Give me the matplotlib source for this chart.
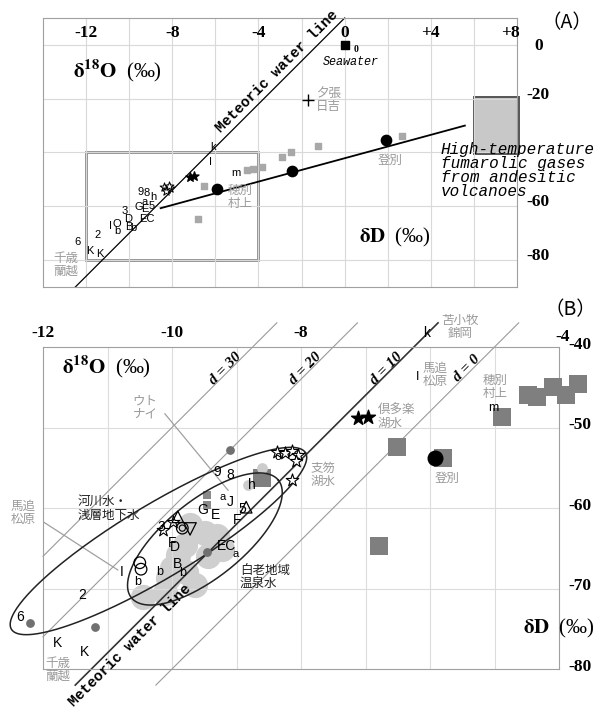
import numpy as np
import matplotlib.pyplot as plt
from matplotlib.patches import Rectangle

plt.rcParams['font.family'] = ['Liberation Sans', 'Noto Sans CJK JP']
plt.rcParams['mathtext.fontset'] = 'stix'

JP = ['Noto Sans CJK JP', 'DejaVu Sans']
GRAYTXT = '#9a9a9a'

# ---------------- panel A data (d18O, dD) ----------------
a_letters = ['9', '8', 'h', 'a', '3', 'G', 'E', '5', 'D', 'O', 'I', 'b', 'B', 'b', 'EC',
             '6', '2', 'K', 'K', 'm', 'I', 'k']
a_letter_x = [-9.46, -9.2, -8.86, -9.28, -10.2, -9.56, -9.28, -8.95, -10.06, -10.57, -10.85,
              -10.55, -10.02, -9.8, -9.2, -12.38, -11.45, -11.85, -11.38, -5.06, -6.22, -6.13]
a_letter_y = [-54.8, -55.2, -56.7, -58.5, -61.9, -60.4, -61.1, -60.0, -64.8, -66.7, -67.4,
              -69.3, -67.8, -68.1, -64.8, -73.3, -70.7, -76.7, -77.8, -47.8, -43.7, -38.1]
a_star_x = [-8.4, -8.25, -8.1, -8.3, -8.15]
a_star_y = [-53.0, -53.5, -53.2, -54.2, -52.6]
a_bstar_x = [-7.2, -7.0]
a_bstar_y = [-49.0, -48.8]
a_sq_x = [-1.22, 2.67, -6.55, -6.82, -4.55, -4.25, -3.85, -2.9, -2.5]
a_sq_y = [-37.4, -33.7, -52.6, -64.8, -46.6, -46.0, -45.5, -41.5, -39.7]
a_dot_x = [-5.94, -2.43, 1.93]
a_dot_y = [-53.7, -47.0, -35.2]
mix_x = [-8.54, 5.58]
mix_y = [-60.7, -30.0]

# ---------------- panel B data ----------------
b_letters = ['9', '8', 'h', 'a', 'J', 'G', 'E', '5', 'F', '3', 'F', 'D', 'EC', 'a', 'B',
             'b', 'b', 'b', 'I', '2', '6', 'K', 'K', 'm', 'I', 'k', 'o']
b_letter_x = [-9.3, -9.1, -8.76, -9.22, -9.1, -9.52, -9.33, -8.91, -8.99, -10.17, -10.0,
              -9.95, -9.15, -9.02, -9.92, -10.19, -9.83, -10.53, -10.78, -11.4, -12.36,
              -11.77, -11.35, -5.02, -6.19, -6.05, -8.36]
b_letter_y = [-55.5, -55.9, -57.1, -58.6, -59.3, -60.2, -60.9, -60.1, -61.5, -62.4, -64.3,
              -64.8, -64.7, -65.7, -67.0, -68.0, -68.1, -69.2, -68.0, -70.8, -73.5, -76.8,
              -77.9, -47.6, -43.7, -38.3, -53.7]
b_letter_size = [10, 10, 10, 8, 10, 10, 10, 10, 10, 10, 10, 10, 10, 8, 10,
                 9, 9, 9, 10, 10, 10, 10, 10, 9, 9, 10, 9]

b_blob_x = [-9.72, -9.49, -9.36, -9.8, -9.91, -9.44, -10.0, -10.06, -9.78, -9.64, -10.45,
            -10.11, -9.22, -9.3]
b_blob_y = [-62.1, -63.1, -64.0, -64.6, -65.8, -66.0, -67.5, -68.7, -68.0, -69.6, -71.1,
            -70.6, -65.1, -63.5]
b_sq_x = [-6.51, -5.8, -6.79, -8.6, -4.88, -4.48, -4.34, -4.09, -3.89, -3.71]
b_sq_y = [-52.4, -53.8, -64.7, -56.3, -48.7, -46.0, -46.2, -45.0, -46.0, -44.6]
b_smsq_x = [-9.45, -9.45]
b_smsq_y = [-58.4, -59.6]
b_dot_x = [-5.92]
b_dot_y = [-53.8]
b_gdot_x = [-9.1, -12.2, -11.19, -9.46]
b_gdot_y = [-52.8, -74.3, -74.8, -65.5]
b_ldot_x = [-8.6, -8.82]
b_ldot_y = [-55.0, -57.1]
b_ostar_x = [-8.37, -8.25, -8.14, -8.05, -8.08, -8.14, -10.14, -9.98]
b_ostar_y = [-53.0, -53.2, -52.9, -53.4, -54.2, -56.5, -62.7, -61.7]
b_bstar_x = [-7.12, -6.96]
b_bstar_y = [-48.8, -48.7]
d_values = [30, 20, 10, 0]

fig = plt.figure(figsize=(6.14, 7.16), dpi=100)

# ================= panel A =================
axA = fig.add_axes([43 / 614, 1 - 287 / 716, 474 / 614, 269 / 716])
axA.set_xlim(-14, 8)
axA.set_ylim(-90, 10)
axA.set_xticks(np.arange(-12, 8, 2))
axA.set_yticks(np.arange(-80, 1, 20))
axA.grid(True, color='#d9d9d9', lw=0.8)
axA.tick_params(length=0, labelbottom=False, labelleft=False)
for s in axA.spines.values():
    s.set_color('#a0a0a0')

xx = np.array([-12.5, 0.0])
axA.plot(xx, 8 * xx + 10, color='black', lw=0.9, clip_on=False)
axA.plot(mix_x, mix_y, color='black', lw=1.3)
axA.add_patch(Rectangle((-12, -80), 8, 40, fill=False, ec='#8a8a8a', lw=2))
axA.add_patch(Rectangle((6, -40.5), 2.1, 21, fc='#c8c8c8', ec='#555555', lw=1.4, clip_on=False))

axA.scatter(a_sq_x, a_sq_y, marker='s', s=14, color='#a8a8a8', zorder=3)
axA.scatter(a_dot_x, a_dot_y, marker='o', s=55, color='black', zorder=4)
axA.scatter(a_star_x, a_star_y, marker='*', s=45, fc='white', ec='black', lw=0.7, zorder=4)
axA.scatter(a_bstar_x, a_bstar_y, marker='*', s=45, color='black', zorder=4)
axA.scatter([0], [0], marker='s', s=40, color='black', zorder=4)
axA.plot([-1.7], [-20.4], marker='+', ms=9, color='black', mew=1)
for t, x, y in zip(a_letters, a_letter_x, a_letter_y):
    axA.text(x, y, t, fontsize=8, ha='center', va='center', zorder=5)

for v in [-12, -8, -4, 0]:
    axA.text(v, 4.6, str(v), family='Liberation Serif', weight='bold', fontsize=12.5,
             ha='center', va='center')
axA.text(4, 4.6, '+4', family='Liberation Serif', weight='bold', fontsize=12.5,
         ha='center', va='center')
axA.text(7.7, 4.6, '+8', family='Liberation Serif', weight='bold', fontsize=12.5,
         ha='center', va='center')
axA.text(8.8, -0.5, '0', family='Liberation Serif', weight='bold', fontsize=12.5,
         ha='left', va='center', clip_on=False)
for v in [-20, -60, -80]:
    axA.text(8.45, v + 1.5, str(v), family='Liberation Serif', weight='bold', fontsize=12.5,
             ha='left', va='center')

axA.text(-12.6, -9.5, r'$\mathbf{\delta^{18}O}$  (‰)', family='Liberation Serif',
         fontsize=15, ha='left', va='center')
axA.text(0.65, -71.5, r'$\mathbf{\delta D}$  (‰)', family='Liberation Serif',
         fontsize=15, ha='left', va='center')
axA.text(-3.14, -10.0, 'Meteoric water line', family='Liberation Mono', weight='bold',
         fontsize=10.5, rotation=45, ha='center', va='center')
axA.text(0.55, -1.8, '0', family='Liberation Serif', weight='bold', fontsize=7,
         ha='center', va='center')
axA.text(0.3, -6.3, 'Seawater', family='Liberation Mono', style='italic', fontsize=8.5,
         ha='center', va='center')
axA.text(4.45, -36.0, 'High-temperature\nfumarolic gases\nfrom andesitic\nvolcanoes',
         family='Liberation Mono', style='italic', fontsize=11.5, linespacing=0.92,
         ha='left', va='top', clip_on=False, zorder=6)
axA.text(-1.35, -20.4, '夕張\n日吉', family=JP, color=GRAYTXT, fontsize=9,
         ha='left', va='center', linespacing=1.0)
axA.text(2.1, -42.8, '登別', family=JP, color=GRAYTXT, fontsize=9, ha='center', va='center')
axA.text(-4.86, -56.5, '穂別\n村上', family=JP, color=GRAYTXT, fontsize=9,
         ha='center', va='center', linespacing=1.0)
axA.text(-12.95, -81.8, '千歳\n蘭越', family=JP, color=GRAYTXT, fontsize=9,
         ha='center', va='center', linespacing=1.0)
fig.text(567 / 614, 1 - 23 / 716, '（A）', family=JP, fontsize=14, ha='center', va='center')

# ================= panel B =================
axB = fig.add_axes([43 / 614, 1 - 669 / 716, 516 / 614, 322 / 716])
axB.set_xlim(-12, -4)
axB.set_ylim(-80, -40)
axB.set_xticks(np.arange(-11, -4, 1))
axB.set_yticks(np.arange(-70, -40, 10))
axB.grid(True, color='#dcdcdc', lw=0.8)
axB.tick_params(length=0, labelbottom=False, labelleft=False)
for s in axB.spines.values():
    s.set_color('#a0a0a0')

for d in d_values:
    x0 = max(-12.0, (-82.0 - d) / 8)
    x1 = (-37.0 - d) / 8
    xs = np.array([x0, x1])
    if d == 10:
        axB.plot(xs, 8 * xs + d, color='#333333', lw=1.2, clip_on=False, zorder=2)
    else:
        axB.plot(xs, 8 * xs + d, color='#9a9a9a', lw=0.8, clip_on=False, zorder=2)
    xt = (-43.0 - d) / 8 - 0.05
    axB.text(xt, -42.7, f'd = {d}', family='Liberation Serif', weight='bold',
             style='italic', fontsize=11, rotation=45, ha='center', va='center',
             clip_on=False)


def ellipse(cx, cy, a, b, ang):
    t = np.linspace(0, 2 * np.pi, 300)
    r = np.radians(ang)
    ex = a * np.cos(t) * np.cos(r) - b * np.sin(t) * np.sin(r)
    ey = a * np.cos(t) * np.sin(r) + b * np.sin(t) * np.cos(r)
    return cx + ex, cy + 8 * ey


ex, ey = ellipse(-10.21, -64.1, 2.66, 0.57, 31)
axB.plot(ex, ey, color='#222222', lw=1.1, clip_on=False, zorder=4)
ex, ey = ellipse(-9.49, -63.85, 1.46, 0.60, 38.7)
axB.plot(ex, ey, color='#222222', lw=1.1, clip_on=False, zorder=4)

# leader lines
axB.plot([-10.11, -9.13], [-48.3, -57.8], color='#a0a0a0', lw=0.9, zorder=2)
axB.plot([-12.0, -10.84], [-61.7, -67.7], color='#a0a0a0', lw=0.9, zorder=2)

axB.scatter(b_blob_x, b_blob_y, marker='o', s=330, color='#cfcfcf', lw=0, zorder=1)
axB.scatter(b_sq_x, b_sq_y, marker='s', s=150, color='#7f7f7f', lw=0, zorder=3, clip_on=False)
axB.scatter(b_smsq_x, b_smsq_y, marker='s', s=30, color='#8a8a8a', lw=0, zorder=3)
axB.scatter(b_dot_x, b_dot_y, marker='o', s=110, color='black', zorder=4)
axB.scatter(b_gdot_x, b_gdot_y, marker='o', s=28, color='#707070', zorder=4, clip_on=False)
axB.scatter(b_ldot_x, b_ldot_y, marker='o', s=60, color='#cccccc', lw=0, zorder=3)
axB.scatter(b_ostar_x, b_ostar_y, marker='*', s=90, fc='white', ec='black', lw=0.8, zorder=5)
axB.scatter(b_bstar_x, b_bstar_y, marker='*', s=110, color='black', zorder=5)
axB.scatter([-9.91, -8.85], [-61.1, -59.9], marker='^', s=70, fc='none', ec='black', lw=0.9, zorder=5)
axB.scatter([-9.72], [-62.6], marker='v', s=80, fc='none', ec='black', lw=0.9, zorder=5)
axB.scatter([-9.84], [-62.5], marker='o', s=70, fc='none', ec='black', lw=0.9, zorder=5)
axB.scatter([-9.84], [-62.5], marker='o', s=20, fc='none', ec='black', lw=0.8, zorder=5)
axB.scatter([-10.5, -10.48], [-66.8, -67.6], marker='o', s=70, fc='none', ec='black', lw=0.9, zorder=5)
for t, x, y, fs in zip(b_letters, b_letter_x, b_letter_y, b_letter_size):
    axB.text(x, y, t, fontsize=fs, ha='center', va='center', zorder=6, clip_on=False)

for v in [-12, -10, -8]:
    axB.text(v, -38.3, str(v), family='Liberation Serif', weight='bold', fontsize=12.5,
             ha='center', va='center', clip_on=False)
axB.text(-3.95, -38.8, '-4', family='Liberation Serif', weight='bold', fontsize=12.5,
         ha='center', va='center', clip_on=False)
for v in [-40, -50, -60, -70, -80]:
    axB.text(-3.86, v + 0.3, str(v), family='Liberation Serif', weight='bold', fontsize=12.5,
             ha='left', va='center', clip_on=False)

axB.text(-11.7, -42.5, r'$\mathbf{\delta^{18}O}$  (‰)', family='Liberation Serif',
         fontsize=15, ha='left', va='center')
axB.text(-4.0, -75.0, r'$\mathbf{\delta D}$  (‰)', family='Liberation Serif',
         fontsize=15, ha='center', va='center', clip_on=False)
axB.text(-10.65, -77.1, 'Meteoric water line', family='Liberation Mono', weight='bold',
         fontsize=10.5, rotation=45, ha='center', va='center', clip_on=False)

axB.text(-10.42, -47.5, 'ウト\nナイ', family=JP, color=GRAYTXT, fontsize=9,
         ha='center', va='center', linespacing=1.0)
axB.text(-12.31, -60.6, '馬追\n松原', family=JP, color=GRAYTXT, fontsize=9,
         ha='center', va='center', linespacing=1.0)
axB.text(-11.77, -80.1, '千歳\n蘭越', family=JP, color=GRAYTXT, fontsize=9,
         ha='center', va='center', linespacing=1.0)
axB.text(-5.53, -37.5, '苫小牧\n錦岡', family=JP, color=GRAYTXT, fontsize=9,
         ha='center', va='center', linespacing=1.0)
axB.text(-5.92, -43.5, '馬追\n松原', family=JP, color=GRAYTXT, fontsize=9,
         ha='center', va='center', linespacing=1.0)
axB.text(-6.81, -48.7, '倶多楽\n湖水', family=JP, color=GRAYTXT, fontsize=9,
         ha='left', va='center', linespacing=1.0)
axB.text(-4.99, -45.0, '穂別\n村上', family=JP, color=GRAYTXT, fontsize=9,
         ha='center', va='center', linespacing=1.0)
axB.text(-7.86, -55.9, '支笏\n湖水', family=JP, color=GRAYTXT, fontsize=9,
         ha='left', va='center', linespacing=1.0)
axB.text(-5.74, -56.3, '登別', family=JP, color=GRAYTXT, fontsize=9, ha='center', va='center')
axB.text(-8.95, -68.6, '白老地域\n温泉水', family=JP, color='#222222', fontsize=9,
         ha='left', va='center', linespacing=1.1)
axB.text(-11.46, -60.0, '河川水・\n浅層地下水', family=JP, color='#222222', fontsize=9,
         ha='left', va='center', linespacing=1.1)
fig.text(570 / 614, 1 - 310 / 716, '（B）', family=JP, fontsize=14, ha='center', va='center')

fig.savefig('out.png', dpi=100)
